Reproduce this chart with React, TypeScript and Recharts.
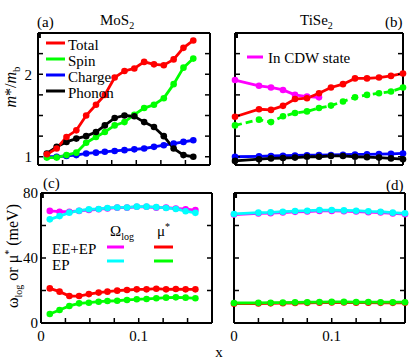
import React from 'react';
import { LineChart, Line, XAxis, YAxis } from 'recharts';

const FONT = '"Liberation Serif", "DejaVu Serif", serif';

// doping x for the MoS2 panels (a, c) and the TiSe2 panels (b, d)
const xMoS2 = [0.009, 0.019, 0.029, 0.039, 0.049, 0.059, 0.068, 0.078, 0.088, 0.098, 0.108, 0.118, 0.128, 0.138, 0.148, 0.158];
const xTiSe2 = [0, 0.025, 0.0375, 0.05, 0.0625, 0.075, 0.0875, 0.1, 0.1125, 0.125, 0.1375, 0.15, 0.1625, 0.175];

// (a) MoS2 m*/mb
const totalA = [1.03, 1.1, 1.24, 1.32, 1.5, 1.63, 1.75, 1.96, 2.04, 2.07, 2.15, 2.12, 2.11, 2.18, 2.32, 2.41];
const spinA = [0.99, 0.99, 1.02, 1.05, 1.17, 1.24, 1.3, 1.38, 1.42, 1.51, 1.59, 1.63, 1.71, 1.88, 2.08, 2.19];
const chargeA = [1.0, 1.0, 1.01, 1.02, 1.04, 1.05, 1.06, 1.07, 1.08, 1.09, 1.1, 1.12, 1.14, 1.16, 1.18, 1.2];
const phononA = [1.04, 1.12, 1.18, 1.22, 1.25, 1.3, 1.38, 1.47, 1.5, 1.49, 1.42, 1.36, 1.25, 1.1, 1.02, 1.0];

// (b) TiSe2 m*/mb
const totalB = [1.485, 1.576, 1.568, 1.617, 1.7, 1.71, 1.77, 1.84, 1.88, 1.95, 1.95, 1.96, 1.98, 2.01];
const spinB = [1.38, 1.45, 1.42, 1.49, 1.53, 1.55, 1.59, 1.62, 1.67, 1.72, 1.75, 1.77, 1.79, 1.84];
const chargeB = [1.0, 1.005, 1.01, 1.012, 1.015, 1.018, 1.02, 1.022, 1.025, 1.028, 1.03, 1.033, 1.036, 1.04];
const phononB = [0.95, 0.97, 0.98, 0.985, 0.99, 1.0, 1.0, 1.01, 1.01, 1.0, 0.995, 0.99, 0.98, 0.97];
const cdwB = [1.93, 1.86, 1.84, 1.81, 1.75, 1.73, 1.72];

// (c) MoS2 omega_log and mu* (meV)
const omegaEeC = [69, 68.5, 68.5, 69, 69.5, 70, 70.5, 71, 71, 71.5, 71.5, 71, 71, 70.5, 70, 69.5];
const omegaEpC = [63.8, 65.8, 67.9, 69.1, 70, 70.2, 70.8, 71.1, 71.1, 71.6, 71.6, 71.3, 70.8, 70.2, 68.8, 67.8];
const muEeC = [21.3, 19.3, 16.6, 16.6, 17.8, 18.7, 19.3, 19.9, 20.3, 20.7, 20.7, 21.1, 20.7, 20.9, 20.7, 20.7];
const muEpC = [5.5, 8, 10.5, 12.1, 12.5, 13.1, 13.5, 13.7, 14.2, 14.6, 14.8, 15.2, 15.6, 15.8, 15.6, 15.2];

// (d) TiSe2 omega_log and mu* (meV)
const omegaEeD = [66.7, 67.4, 67.6, 68, 68.4, 68.6, 69, 69, 68.8, 68.6, 68.2, 68, 67.4, 67];
const omegaEpD = [67.1, 67.9, 68.1, 68.5, 68.9, 69.1, 69.5, 69.5, 69.3, 69.1, 68.7, 68.5, 67.9, 67.5];
const muEeD = [11.9, 12, 12.1, 12.2, 12.3, 12.4, 12.5, 12.6, 12.6, 12.5, 12.5, 12.4, 12.4, 12.4];
const muEpD = [12.3, 12.4, 12.5, 12.6, 12.7, 12.8, 12.9, 13, 13, 12.9, 12.9, 12.8, 12.8, 12.8];

const xTicks = [0, 0.025, 0.05, 0.075, 0.1, 0.125, 0.15, 0.175];
const massTicks = [1, 1.25, 1.5, 1.75, 2, 2.25, 2.5];
const energyTicks = [0, 20, 40, 60, 80];

const dataA = xMoS2.map((x, i) => ({ x, total: totalA[i], spin: spinA[i], charge: chargeA[i], phonon: phononA[i] }));
const dataB = xTiSe2.map((x, i) => ({ x, total: totalB[i], spin: spinB[i], charge: chargeB[i], phonon: phononB[i], cdw: cdwB[i] }));
const dataC = xMoS2.map((x, i) => ({ x, omEe: omegaEeC[i], omEp: omegaEpC[i], muEe: muEeC[i], muEp: muEpC[i] }));
const dataD = xTiSe2.map((x, i) => ({ x, omEe: omegaEeD[i], omEp: omegaEpD[i], muEe: muEeD[i], muEp: muEpD[i] }));

const RED = '#ff0000';
const GREEN = '#00ff00';
const BLUE = '#0000ff';
const BLACK = '#000000';
const MAGENTA = '#ff00ff';
const CYAN = '#00ffff';

const axisLine = { stroke: '#000', strokeWidth: 2 };
const tickLine = { stroke: '#000', strokeWidth: 1.5 };
const tickFont = { fill: '#000', fontSize: 15, fontFamily: FONT };
const blank = () => '';

const xLabel = (v: number) => (v === 0 ? '0' : Math.abs(v - 0.1) < 1e-9 ? '0.1' : '');
const massLabel = (v: number) => (v === 1 || v === 2 ? String(v) : '');
const energyLabel = (v: number) => (v % 40 === 0 ? String(v) : '');

// box frame with inward ticks on all four sides
const frame = (opts: {
  yDomain: [number, number];
  yTicks: number[];
  xFmt: (v: number) => string;
  yFmt: (v: number) => string;
  yMargin: number;
}) => [
  <XAxis key="xb" xAxisId={0} dataKey="x" type="number" domain={[0, 0.175]} ticks={xTicks} interval={0}
    tickFormatter={opts.xFmt} height={1} tickSize={-5} tickMargin={12}
    axisLine={axisLine} tickLine={tickLine} tick={tickFont} />,
  <XAxis key="xt" xAxisId="top" orientation="top" type="number" domain={[0, 0.175]} allowDataOverflow
    ticks={xTicks} interval={0} tickFormatter={blank} height={1} tickSize={-5}
    axisLine={axisLine} tickLine={tickLine} tick={tickFont} />,
  <YAxis key="yl" yAxisId={0} type="number" domain={opts.yDomain} ticks={opts.yTicks} interval={0}
    tickFormatter={opts.yFmt} width={1} tickSize={-5} tickMargin={opts.yMargin}
    axisLine={axisLine} tickLine={tickLine} tick={tickFont} />,
  <YAxis key="yr" yAxisId="right" orientation="right" type="number" domain={opts.yDomain} allowDataOverflow
    ticks={opts.yTicks} interval={0} tickFormatter={blank} width={1} tickSize={-5}
    axisLine={axisLine} tickLine={tickLine} tick={tickFont} />,
];

const series = (key: string, color: string, dash?: string) => (
  <Line key={key} dataKey={key} stroke={color} strokeWidth={2.8} strokeDasharray={dash}
    dot={{ r: 3.3, fill: color, stroke: color, strokeWidth: 0 }} isAnimationActive={false} />
);

const at = (left: number, top: number): React.CSSProperties => ({ position: 'absolute', left, top });

export default function App() {
  return (
    <div style={{ position: 'absolute', left: 0, top: 0, width: 415, height: 361, background: '#fff', fontFamily: FONT }}>
      <div style={at(0, 0)}>
        <LineChart width={222} height={176} data={dataA} margin={{ top: 32, right: 11, bottom: 10, left: 37 }}>
          {frame({ yDomain: [0.9, 2.5], yTicks: massTicks, xFmt: blank, yFmt: massLabel, yMargin: 11 })}
          {series('charge', BLUE)}
          {series('spin', GREEN)}
          {series('phonon', BLACK)}
          {series('total', RED)}
        </LineChart>
      </div>
      <div style={at(222, 0)}>
        <LineChart width={193} height={176} data={dataB} margin={{ top: 32, right: 11, bottom: 10, left: 12 }}>
          {frame({ yDomain: [0.9, 2.5], yTicks: massTicks, xFmt: blank, yFmt: blank, yMargin: 11 })}
          {series('cdw', MAGENTA)}
          {series('spin', GREEN, '7 4')}
          {series('total', RED)}
          {series('charge', BLUE)}
          {series('phonon', BLACK)}
        </LineChart>
      </div>
      <div style={at(0, 176)}>
        <LineChart width={222} height={185} data={dataC} margin={{ top: 16, right: 9, bottom: 37, left: 40 }}>
          {frame({ yDomain: [0, 80], yTicks: energyTicks, xFmt: xLabel, yFmt: energyLabel, yMargin: 8 })}
          {series('omEe', MAGENTA)}
          {series('omEp', CYAN)}
          {series('muEe', RED)}
          {series('muEp', GREEN)}
        </LineChart>
      </div>
      <div style={at(222, 176)}>
        <LineChart width={193} height={185} data={dataD} margin={{ top: 16, right: 9, bottom: 37, left: 11 }}>
          {frame({ yDomain: [0, 80], yTicks: energyTicks, xFmt: xLabel, yFmt: blank, yMargin: 8 })}
          {series('omEe', MAGENTA)}
          {series('omEp', CYAN)}
          {series('muEe', RED)}
          {series('muEp', GREEN)}
        </LineChart>
      </div>

      <svg width={415} height={361} style={{ position: 'absolute', left: 0, top: 0, pointerEvents: 'none' }}
        fontFamily={FONT} fontSize={15} fill="#000">
        <text x={37} y={27}>(a)</text>
        <text x={100} y={25}>MoS<tspan fontSize={10} dy={4}>2</tspan></text>
        <text x={300} y={25}>TiSe<tspan fontSize={10} dy={4}>2</tspan></text>
        <text x={385} y={27}>(b)</text>
        <text x={43} y={188}>(c)</text>
        <text x={386} y={190}>(d)</text>
        <text x={219} y={357} textAnchor="middle">x</text>

        <text transform="translate(16,87) rotate(-90)" textAnchor="middle" fontSize={16}>
          <tspan fontStyle="italic">m</tspan>*/<tspan fontStyle="italic">m</tspan>
          <tspan fontSize={11} dy={4}>b</tspan>
        </text>
        <text transform="translate(18,256) rotate(-90)" textAnchor="middle" fontSize={16}>
          ω<tspan fontSize={10} dy={4}>log</tspan><tspan dy={-4}> or μ</tspan>
          <tspan fontSize={10} dy={-6}>*</tspan><tspan dy={6}> (meV)</tspan>
        </text>

        {/* legend (a) */}
        <line x1={46} x2={65} y1={43} y2={43} stroke={RED} strokeWidth={3} />
        <text x={68} y={50}>Total</text>
        <line x1={46} x2={65} y1={59} y2={59} stroke={GREEN} strokeWidth={3} />
        <text x={68} y={66}>Spin</text>
        <line x1={46} x2={65} y1={75} y2={75} stroke={BLUE} strokeWidth={3} />
        <text x={68} y={82}>Charge</text>
        <line x1={46} x2={65} y1={91} y2={91} stroke={BLACK} strokeWidth={3} />
        <text x={68} y={98}>Phonon</text>

        {/* legend (b) */}
        <line x1={247} x2={263} y1={57} y2={57} stroke={MAGENTA} strokeWidth={3} />
        <text x={268} y={63}>In CDW state</text>

        {/* legend (c) */}
        <text x={110} y={236}>Ω<tspan fontSize={10} dy={4}>log</tspan></text>
        <text x={157} y={236}>μ<tspan fontSize={10} dy={-6}>*</tspan></text>
        <text x={52} y={254}>EE+EP</text>
        <text x={52} y={270}>EP</text>
        <line x1={107} x2={124} y1={247} y2={247} stroke={MAGENTA} strokeWidth={3} />
        <line x1={154} x2={173} y1={247} y2={247} stroke={RED} strokeWidth={3} />
        <line x1={107} x2={124} y1={261} y2={261} stroke={CYAN} strokeWidth={3} />
        <line x1={154} x2={173} y1={261} y2={261} stroke={GREEN} strokeWidth={3} />
      </svg>
    </div>
  );
}
